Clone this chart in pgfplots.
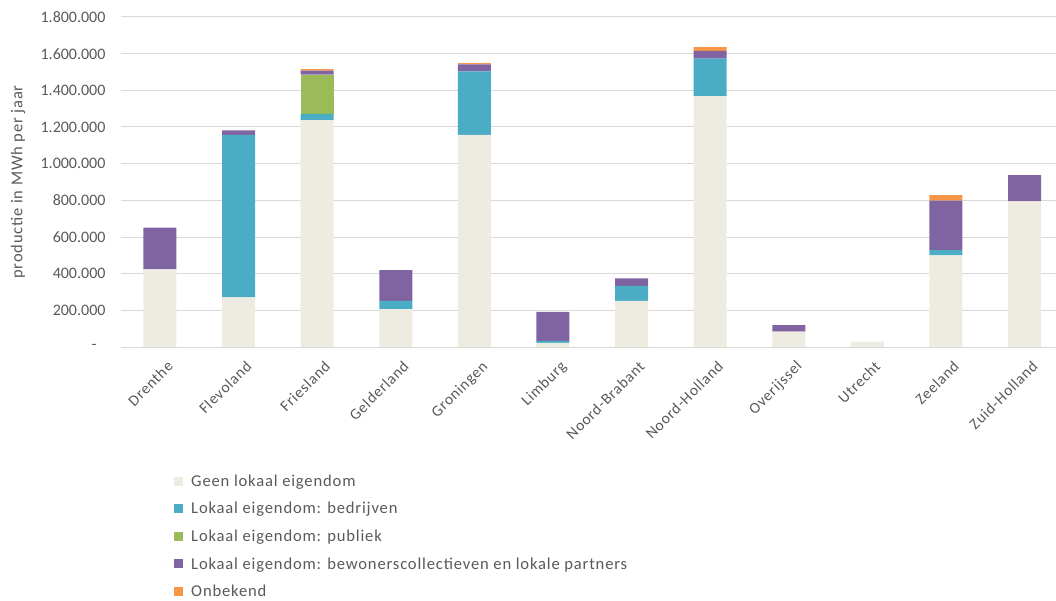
\documentclass[border=0pt]{standalone}
\usepackage{pgfplots}
\usepackage{pgfplotstable}
\pgfplotsset{compat=1.18}
\usepackage{fontspec}
\setmainfont{Carlito}
\newfontfamily\lf{Carlito}[LetterSpace=5]
\definecolor{geen}{HTML}{EEECE1}
\definecolor{bedr}{HTML}{4BACC6}
\definecolor{publ}{HTML}{9BBB59}
\definecolor{bew}{HTML}{8064A2}
\definecolor{onb}{HTML}{F79646}
\definecolor{gridc}{HTML}{D9D9D9}
\definecolor{labc}{HTML}{595959}

\pgfplotstableread{
x geen bedr publ bew onb
0 424000 0 0 227000 0
1 271000 886000 0 25000 0
2 1238000 33000 214000 22000 8000
3 206000 45000 0 169000 0
4 1157000 347000 0 38000 6000
5 22000 11000 0 158000 0
6 251000 82000 0 42000 0
7 1369000 204000 0 42000 20000
8 84000 0 0 36000 0
9 29000 0 0 0 0
10 500000 29000 0 269000 31000
11 795000 0 0 142000 0
}\data

\begin{document}
\begin{tikzpicture}
\path[use as bounding box] (0,0) rectangle (1056pt,600pt);
\begin{axis}[
  at={(121pt,253pt)}, anchor=south west,
  scale only axis, width=935pt, height=330pt,
  ybar stacked, bar width=33pt,
  xmin=-0.496, xmax=11.40,
  ymin=0, ymax=1800000,
  xtick={0,...,11},
  xticklabels={Drenthe,Flevoland,Friesland,Gelderland,Groningen,Limburg,Noord-Brabant,Noord-Holland,Overijssel,Utrecht,Zeeland,Zuid-Holland},
  ytick={0,200000,400000,600000,800000,1000000,1200000,1400000,1600000,1800000},
  yticklabels={{-\hspace*{9pt}},200.000,400.000,600.000,800.000,1.000.000,1.200.000,1.400.000,1.600.000,1.800.000},
  scaled y ticks=false,
  ymajorgrids, grid style={draw=gridc, line width=1pt},
  axis x line*=bottom, axis y line*=left,
  x axis line style={draw=gridc, line width=1pt, -},
  y axis line style={draw=none},
  major tick length=0pt,
  yticklabel style={font=\fontsize{16}{19}\selectfont, text=labc, anchor=east, xshift=-12pt},
  xticklabel style={font=\lf\fontsize{15.5}{18}\selectfont, text=labc, rotate=45, anchor=north east, yshift=-10pt, xshift=-1pt},
  ylabel={productie in MWh per jaar},
  ylabel style={font=\lf\fontsize{16.5}{19}\selectfont, text=labc, at={(axis description cs:-0.110,0.5)}, anchor=center},
  legend style={at={(axis description cs:0.0567,-0.380)}, anchor=north west, draw=none, fill=none,
    font=\lf\fontsize{16.6}{20}\selectfont, text=labc, row sep=10.6pt, inner sep=0pt,
    /tikz/every odd column/.append style={column sep=6pt}},
  legend cell align=left,
  clip=false,
]
\addplot[fill=geen, draw=none, legend image code/.code={\fill[geen] (0pt,-4.5pt) rectangle (9pt,4.5pt);}] table[x=x,y=geen]{\data};
\addplot[fill=bedr, draw=none, legend image code/.code={\fill[bedr] (0pt,-4.5pt) rectangle (9pt,4.5pt);}] table[x=x,y=bedr]{\data};
\addplot[fill=publ, draw=none, legend image code/.code={\fill[publ] (0pt,-4.5pt) rectangle (9pt,4.5pt);}] table[x=x,y=publ]{\data};
\addplot[fill=bew, draw=none, legend image code/.code={\fill[bew] (0pt,-4.5pt) rectangle (9pt,4.5pt);}] table[x=x,y=bew]{\data};
\addplot[fill=onb, draw=none, legend image code/.code={\fill[onb] (0pt,-4.5pt) rectangle (9pt,4.5pt);}] table[x=x,y=onb]{\data};
\legend{Geen lokaal eigendom,Lokaal eigendom: bedrijven,Lokaal eigendom: publiek,Lokaal eigendom: bewonerscollectieven en lokale partners,Onbekend}
\end{axis}
\end{tikzpicture}
\end{document}
